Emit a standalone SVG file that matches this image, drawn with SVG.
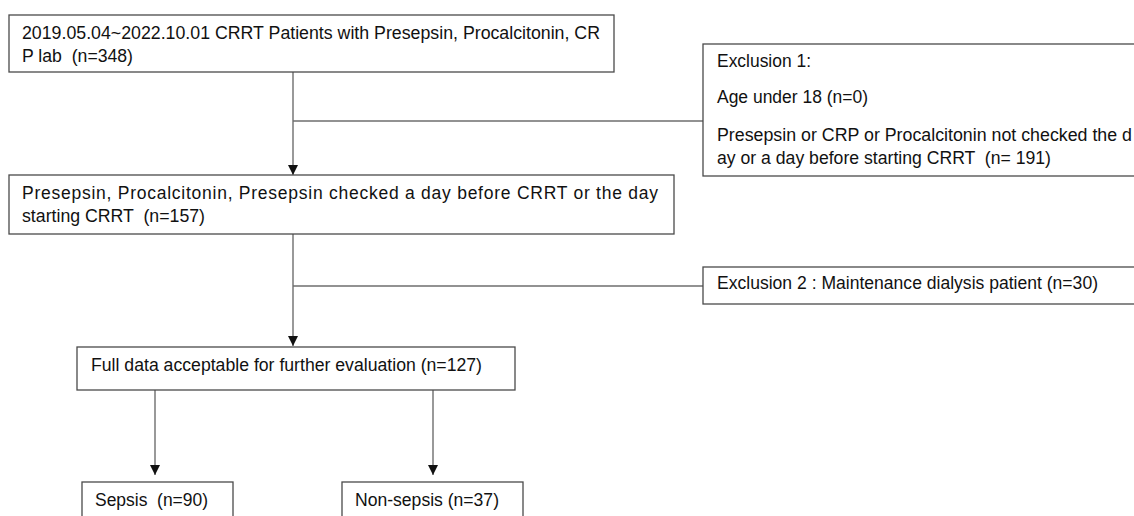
<svg xmlns="http://www.w3.org/2000/svg" width="1134" height="516" viewBox="0 0 1134 516">
<defs>
<style>
.box{fill:#fff;stroke:#4a4a4a;stroke-width:1.3}
.ln{fill:none;stroke:#6e6e6e;stroke-width:1.4}
text{font-family:"Liberation Sans",Arial,sans-serif;font-size:17.5px;fill:#111;white-space:pre}
</style>
<marker id="ah" markerUnits="userSpaceOnUse" markerWidth="12" markerHeight="12" viewBox="0 0 12 12" refX="10" refY="6" orient="auto">
<path d="M0,1 L10,6 L0,11 Z" fill="#111"/>
</marker>
</defs>
<rect width="1134" height="516" fill="#fff"/>
<g id="connectors">
<line class="ln" x1="293" y1="72" x2="293" y2="175" marker-end="url(#ah)"/>
<line class="ln" x1="293" y1="121" x2="703" y2="121"/>
<line class="ln" x1="293" y1="234" x2="293" y2="346" marker-end="url(#ah)"/>
<line class="ln" x1="293" y1="286" x2="703" y2="286"/>
<line class="ln" x1="155" y1="390" x2="155" y2="475" marker-end="url(#ah)"/>
<line class="ln" x1="433" y1="390" x2="433" y2="475" marker-end="url(#ah)"/>
</g>
<g id="n1">
<rect class="box" x="9" y="15" width="605" height="57"/>
<text x="22" y="39" textLength="578" lengthAdjust="spacingAndGlyphs">2019.05.04~2022.10.01 CRRT Patients with Presepsin, Procalcitonin, CR</text>
<text x="22" y="62" textLength="111" lengthAdjust="spacingAndGlyphs" xml:space="preserve">P lab  (n=348)</text>
</g>
<g id="ex1">
<rect class="box" x="703" y="44" width="440" height="132"/>
<text x="717" y="67" textLength="94" lengthAdjust="spacingAndGlyphs">Exclusion 1:</text>
<text x="717" y="103" textLength="151" lengthAdjust="spacingAndGlyphs">Age under 18 (n=0)</text>
<text x="717" y="141" textLength="415" lengthAdjust="spacingAndGlyphs">Presepsin or CRP or Procalcitonin not checked the d</text>
<text x="717" y="164" textLength="334" lengthAdjust="spacingAndGlyphs" xml:space="preserve">ay or a day before starting CRRT  (n= 191)</text>
</g>
<g id="n2">
<rect class="box" x="9" y="175" width="665" height="59"/>
<text x="22" y="199" textLength="636" lengthAdjust="spacing">Presepsin, Procalcitonin, Presepsin checked a day before CRRT or the day</text>
<text x="22" y="222" textLength="183" lengthAdjust="spacingAndGlyphs" xml:space="preserve">starting CRRT  (n=157)</text>
</g>
<g id="ex2">
<rect class="box" x="703" y="267" width="440" height="37"/>
<text x="717" y="289" textLength="381" lengthAdjust="spacingAndGlyphs">Exclusion 2 : Maintenance dialysis patient (n=30)</text>
</g>
<g id="n3">
<rect class="box" x="77" y="347" width="438" height="43"/>
<text x="91" y="371" textLength="391" lengthAdjust="spacingAndGlyphs">Full data acceptable for further evaluation (n=127)</text>
</g>
<g id="sepsis">
<rect class="box" x="82" y="482" width="151" height="50"/>
<text x="95" y="506" textLength="113" lengthAdjust="spacingAndGlyphs" xml:space="preserve">Sepsis  (n=90)</text>
</g>
<g id="nonsepsis">
<rect class="box" x="342" y="482" width="181" height="50"/>
<text x="355" y="506" textLength="144" lengthAdjust="spacingAndGlyphs">Non-sepsis (n=37)</text>
</g>
</svg>
